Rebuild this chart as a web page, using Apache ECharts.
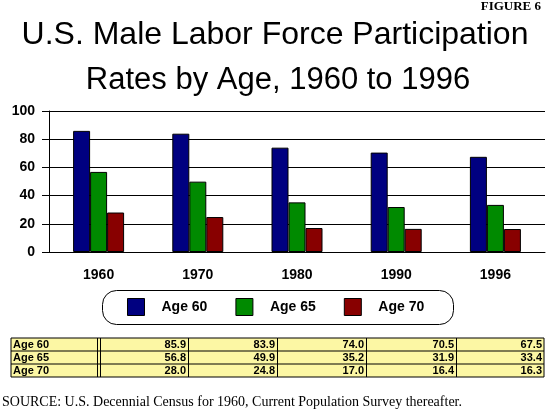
<!DOCTYPE html>
<html>
<head>
<meta charset="utf-8">
<script src="https://cdn.jsdelivr.net/npm/echarts@6/dist/echarts.min.js"></script>
<style>
  html, body { margin: 0; padding: 0; background: #fff; }
  #chart { width: 551px; height: 414px; }
</style>
</head>
<body>
<div id="chart"></div>
<script>
var years = ['1960', '1970', '1980', '1990', '1996']
var seriesNames = ['Age 60', 'Age 65', 'Age 70']
var age60 = [85.9, 83.9, 74.0, 70.5, 67.5]
var age65 = [56.8, 49.9, 35.2, 31.9, 33.4]
var age70 = [28.0, 24.8, 17.0, 16.4, 16.3]
var yTicks = [0, 20, 40, 60, 80, 100]

var colors = ['#000080', '#008a00', '#880000']
var sans = '"Liberation Sans", Arial, sans-serif'
var serif = '"Liberation Serif", "Times New Roman", serif'

var myEchart = echarts.init(document.getElementById('chart'))

// data table under the legend, built from the arrays above
function buildTable() {
  var rows = [age60, age65, age70]
  var colX = [11, 100, 188, 277, 366, 456, 544]
  var top = 338
  var rowH = 13
  var els = []
  els.push({
    type: 'rect',
    shape: { x: colX[0], y: top, width: colX[6] - colX[0], height: rowH * 3 },
    style: { fill: '#fcf7a4', stroke: '#000', lineWidth: 1 }
  })
  for (var r = 1; r < 3; r++) {
    els.push({
      type: 'line',
      shape: { x1: colX[0], y1: top + r * rowH, x2: colX[6], y2: top + r * rowH },
      style: { stroke: '#000', lineWidth: 1 }
    })
  }
  // double line after the label column
  els.push({ type: 'line', shape: { x1: 97.5, y1: top, x2: 97.5, y2: top + rowH * 3 }, style: { stroke: '#000', lineWidth: 1 } })
  for (var c = 1; c < 6; c++) {
    els.push({
      type: 'line',
      shape: { x1: colX[c] + 0.5, y1: top, x2: colX[c] + 0.5, y2: top + rowH * 3 },
      style: { stroke: '#000', lineWidth: 1 }
    })
  }
  rows.forEach(function (vals, r) {
    var cy = top + r * rowH + rowH / 2 + 0.5
    els.push({
      type: 'text',
      style: { text: seriesNames[r], x: 13, y: cy, textAlign: 'left', textVerticalAlign: 'middle', font: 'bold 11px ' + sans, fill: '#000' }
    })
    vals.forEach(function (v, c) {
      els.push({
        type: 'text',
        style: { text: v.toFixed(1), x: colX[c + 2] - 2, y: cy, textAlign: 'right', textVerticalAlign: 'middle', font: 'bold 11px ' + sans, fill: '#000' }
      })
    })
  })
  return els
}

var graphics = [
  { type: 'text', style: { text: 'FIGURE 6', x: 541, y: 7, textAlign: 'right', textVerticalAlign: 'middle', font: 'bold 13px ' + serif, fill: '#000' } },
  { type: 'text', style: { text: 'U.S. Male Labor Force Participation', x: 275, y: 35, textAlign: 'center', textVerticalAlign: 'middle', font: '32px ' + sans, fill: '#000' } },
  { type: 'text', style: { text: 'Rates by Age, 1960 to 1996', x: 278, y: 80, textAlign: 'center', textVerticalAlign: 'middle', font: '31px ' + sans, fill: '#000' } },
  {
    type: 'rect',
    shape: { x: 102.5, y: 290.5, width: 351, height: 34, r: 14 },
    style: { fill: 'none', stroke: '#000', lineWidth: 1 }
  },
  { type: 'text', style: { text: 'SOURCE: U.S. Decennial Census for 1960, Current Population Survey thereafter.', x: 2, y: 402, textAlign: 'left', textVerticalAlign: 'middle', font: '14px ' + serif, fill: '#000' } }
].concat(buildTable())

var series = [age60, age65, age70].map(function (vals, i) {
  return {
    name: seriesNames[i],
    type: 'bar',
    barWidth: 17,
    barGap: '0%',
    itemStyle: { color: colors[i], borderColor: '#000', borderWidth: 1 },
    data: vals
  }
})

var options = {
  animation: false,
  legend: {
    data: seriesNames,
    left: 122,
    top: 293,
    itemWidth: 17,
    itemHeight: 17,
    itemGap: 28,
    icon: 'rect',
    itemStyle: { borderColor: '#000', borderWidth: 1 },
    textStyle: { fontFamily: sans, fontSize: 14, fontWeight: 'bold', color: '#000', padding: [0, 0, 0, 12] }
  },
  grid: { left: 49, right: 6, top: 111, bottom: 162 },
  xAxis: {
    type: 'category',
    data: years,
    axisLine: { lineStyle: { color: '#000', width: 1 } },
    axisTick: { alignWithLabel: true, length: 7, lineStyle: { color: '#000' } },
    axisLabel: { margin: 16, fontFamily: sans, fontSize: 14, fontWeight: 'bold', color: '#000' }
  },
  yAxis: {
    type: 'value',
    min: yTicks[0],
    max: yTicks[yTicks.length - 1],
    interval: 20,
    axisLine: { show: true, lineStyle: { color: '#000', width: 1 } },
    axisTick: { show: true, length: 7, lineStyle: { color: '#000' } },
    axisLabel: { margin: 14, fontFamily: sans, fontSize: 14, fontWeight: 'bold', color: '#000' },
    splitLine: { lineStyle: { color: '#000', width: 1 } }
  },
  graphic: graphics,
  series: series
}
myEchart.setOption(options)
</script>
</body>
</html>
